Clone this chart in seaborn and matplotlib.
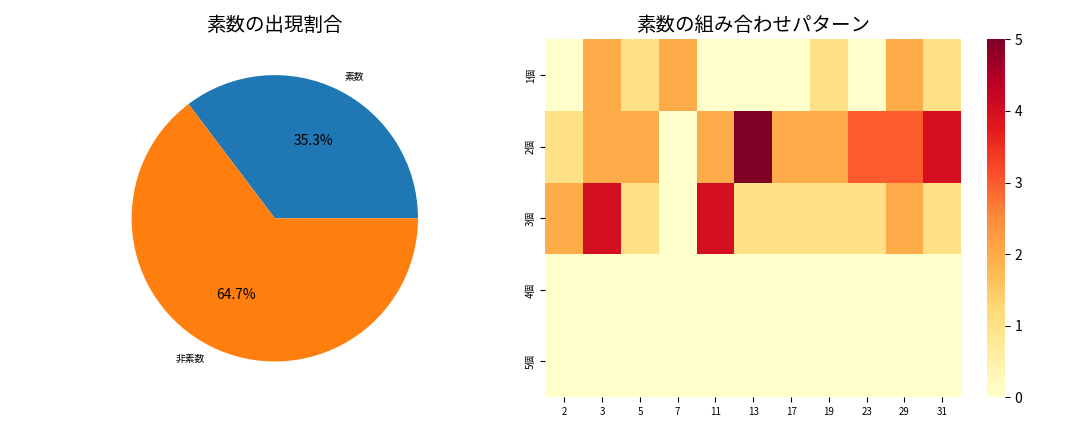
import numpy as np
import matplotlib
matplotlib.use("Agg")
import matplotlib.pyplot as plt
import seaborn as sns

pie_labels = ["素数", "非素数"]
pie_values = [6, 11]

primes = ["2", "3", "5", "7", "11", "13", "17", "19", "23", "29", "31"]
row_labels = ["1個", "2個", "3個", "4個", "5個"]
counts = [
    [0, 2, 1, 2, 0, 0, 0, 1, 0, 2, 1],
    [1, 2, 2, 0, 2, 5, 2, 2, 3, 3, 4],
    [2, 4, 1, 0, 4, 1, 1, 1, 1, 2, 1],
    [0, 0, 0, 0, 0, 0, 0, 0, 0, 0, 0],
    [0, 0, 0, 0, 0, 0, 0, 0, 0, 0, 0],
]

plt.rcParams["font.family"] = ["Noto Sans CJK JP", "DejaVu Sans"]

fig, (ax1, ax2) = plt.subplots(1, 2, figsize=(10.8, 4.32), dpi=100)

ax1.pie(pie_values, labels=pie_labels, autopct="%1.1f%%",
        colors=["#1f77b4", "#ff7f0e"], textprops={"fontsize": 7})
for t in ax1.texts[1::2]:
    t.set_fontsize(10)
ax1.set_title("素数の出現割合", fontsize=14)

sns.heatmap(np.array(counts), ax=ax2, cmap="YlOrRd", vmin=0, vmax=5,
            xticklabels=primes, yticklabels=row_labels)
ax2.tick_params(labelsize=7)
ax2.set_title("素数の組み合わせパターン", fontsize=14)

plt.tight_layout()
plt.savefig("out.png", dpi=100)
